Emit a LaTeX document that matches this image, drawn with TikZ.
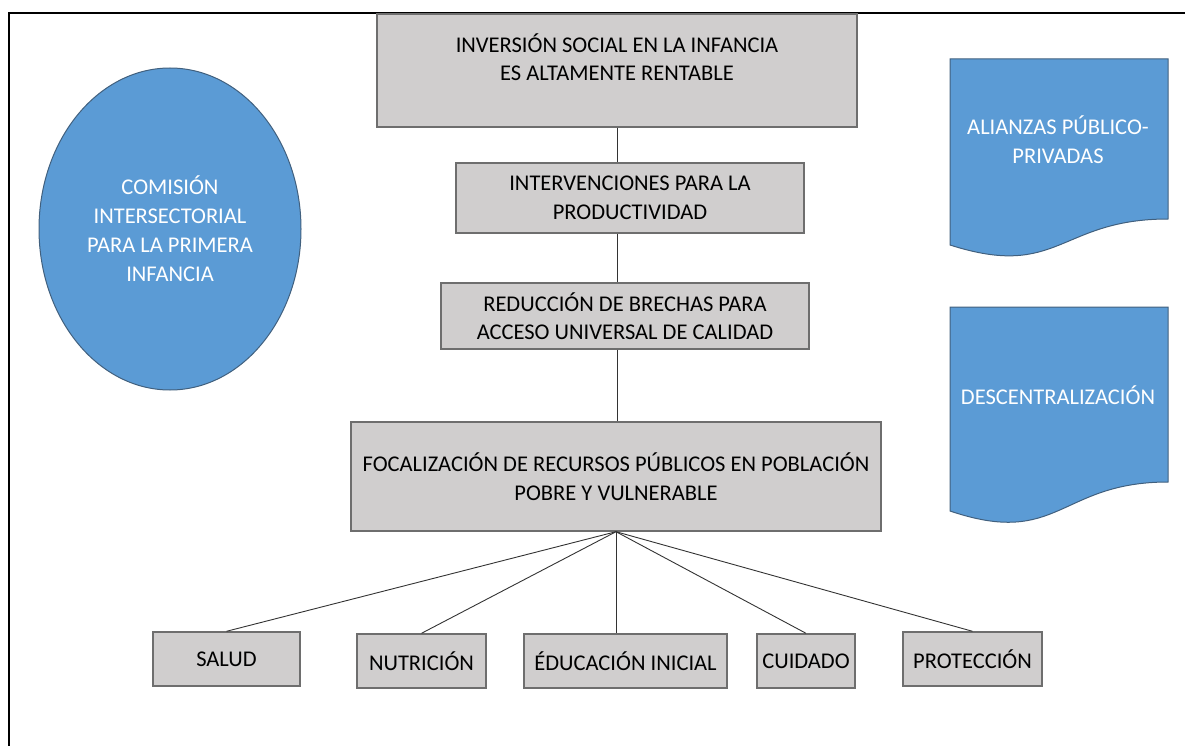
\documentclass[tikz,border=0pt]{standalone}
\usepackage{fontspec}
\setmainfont{Carlito}
\usetikzlibrary{shapes.geometric}
\definecolor{boxgray}{HTML}{D0CECE}
\definecolor{edgegray}{HTML}{6E6E6E}
\definecolor{docblue}{HTML}{5B9BD5}
\definecolor{docedge}{HTML}{41607E}
\tikzset{
  graybox/.style={draw=edgegray, line width=1.4pt, fill=boxgray, rectangle, inner sep=0pt},
  boxtext/.style={align=center, font=\fontsize{22.5}{28.5}\selectfont, text=black, inner sep=0pt},
  bluetext/.style={align=center, font=\fontsize{22.5}{29}\selectfont, text=white, inner sep=0pt},
  blueshape/.style={draw=docedge, line width=1pt, fill=docblue},
  link/.style={draw=black!80, line width=0.9pt},
  frameline/.style={draw=black, line width=2.2pt}
}
\begin{document}
\begin{tikzpicture}[x=1pt,y=-1pt]
\useasboundingbox (0,0) rectangle (1185,746);
% frame
\coordinate (fA) at (9,746);
\coordinate (fB) at (9,13);
\coordinate (fC) at (1185,13);
\draw[frameline] (fA) -- (fB) -- (fC);

% central column
\node[graybox, minimum width=480pt, minimum height=113pt] (top) at (617,70.5) {};
\node[boxtext] (toptext) at (617,57) {INVERSIÓN SOCIAL EN LA INFANCIA\\ES ALTAMENTE RENTABLE};
\node[graybox, minimum width=348pt, minimum height=70pt, boxtext] (b2) at (630,198) {INTERVENCIONES PARA LA\\PRODUCTIVIDAD};
\node[graybox, minimum width=368pt, minimum height=66pt, boxtext] (b3) at (625,316) {REDUCCIÓN DE BRECHAS PARA\\ACCESO UNIVERSAL DE CALIDAD};
\node[graybox, minimum width=530pt, minimum height=109pt, boxtext] (b4) at (616,476.5) {FOCALIZACIÓN DE RECURSOS PÚBLICOS EN POBLACIÓN\\POBRE Y VULNERABLE};

% bottom row
\node[graybox, minimum width=147pt, minimum height=54pt, boxtext] (salud) at (226.5,659) {SALUD};
\node[graybox, minimum width=129pt, minimum height=54pt, boxtext] (nutri) at (421.5,661) {NUTRICIÓN};
\node[graybox, minimum width=203pt, minimum height=54pt, boxtext] (educ) at (625.5,661) {ÉDUCACIÓN INICIAL};
\node[graybox, minimum width=98pt, minimum height=54pt, boxtext] (cuid) at (806,661) {CUIDADO};
\node[graybox, minimum width=139pt, minimum height=54pt, boxtext] (prot) at (972.5,659) {PROTECCIÓN};

% connectors
\draw[link] (top.south) -- (top.south |- b2.north);
\draw[link] (top.south |- b2.south) -- (top.south |- b3.north);
\draw[link] (top.south |- b3.south) -- (top.south |- b4.north);
\draw[link] (b4.south) -- (salud.north);
\draw[link] (b4.south) -- (nutri.north);
\draw[link] (b4.south) -- (b4.south |- educ.north);
\draw[link] (b4.south) -- (cuid.north);
\draw[link] (b4.south) -- (prot.north);

% ellipse
\node[ellipse, blueshape, minimum width=262pt, minimum height=322pt, inner sep=0pt, bluetext] (cis) at (170,229)
  {COMISIÓN\\INTERSECTORIAL\\PARA LA PRIMERA\\INFANCIA};

% document shapes
\path[blueshape] (950,59) -- (1168,59) -- (1168,219)
  .. controls (1059,219) and (1059,280) .. (950,245) -- cycle;
\node[bluetext] (alianzas) at (1058,140) {ALIANZAS PÚBLICO-\\PRIVADAS};
\path[blueshape] (950,307) -- (1168,307) -- (1168,482)
  .. controls (1059,482) and (1059,548) .. (950,511) -- cycle;
\node[bluetext] (descent) at (1058,395) {DESCENTRALIZACIÓN};
\end{tikzpicture}
\end{document}
